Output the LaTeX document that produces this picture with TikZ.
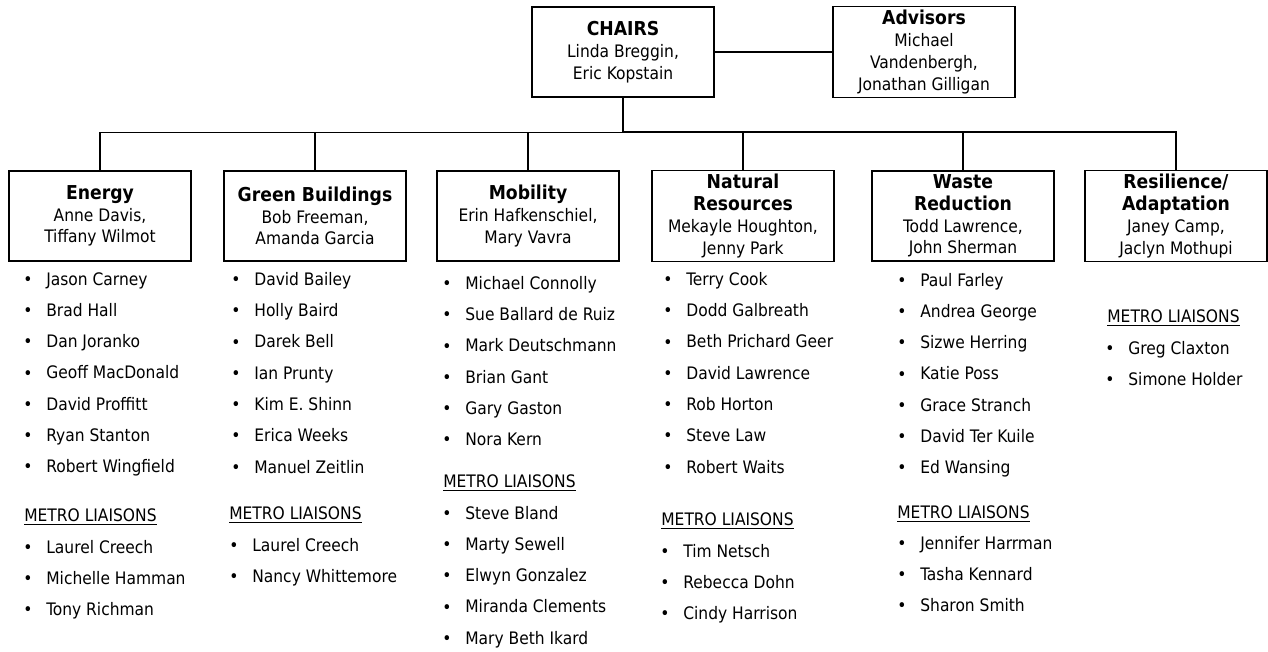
\documentclass[tikz,border=0pt]{standalone}
\usepackage{fontspec}
\setmainfont{DejaVu Sans Condensed}
\usetikzlibrary{positioning}
\newcommand\boxtitle[1]{{\fontsize{10.9}{12.4}\selectfont\bfseries #1}}

\begin{document}
\begin{tikzpicture}[
    x=0.02cm, y=-0.02cm,
    box/.style={draw, line width=0.8pt, minimum width=3.64cm, minimum height=1.8cm,
                align=center, inner sep=2pt, font=\fontsize{9.8}{12.4}\selectfont},
    member/.style={anchor=west, inner sep=0pt, text height=7pt, text depth=2pt,
                   font=\fontsize{9.8}{11.8}\selectfont,
                   label={[label distance=7.5pt, inner sep=0pt,
                           font=\fontsize{9.8}{11.8}\selectfont]left:\textbullet}},
    metro/.style={anchor=west, inner sep=0pt, text height=7pt, text depth=2pt,
                  font=\fontsize{9.8}{11.8}\selectfont},
    link/.style={line width=0.8pt}
]
    \useasboundingbox (0,0) rectangle (1268,652);

    % leadership
    \node[box] (chairs) at (623,52) {\boxtitle{CHAIRS}\\Linda Breggin,\\Eric Kopstain};
    \node[box] (advisors) at (924,52) {\boxtitle{Advisors}\\Michael\\Vandenbergh,\\Jonathan Gilligan};

    % committees
    \node[box] (energy) at (100,216) {\boxtitle{Energy}\\Anne Davis,\\Tiffany Wilmot};
    \node[box] (green) at (315,216) {\boxtitle{Green Buildings}\\Bob Freeman,\\Amanda Garcia};
    \node[box] (mobility) at (528,216) {\boxtitle{Mobility}\\Erin Hafkenschiel,\\Mary Vavra};
    \node[box] (natural) at (743,216) {\boxtitle{Natural}\\\boxtitle{Resources}\\Mekayle Houghton,\\Jenny Park};
    \node[box] (waste) at (963,216) {\boxtitle{Waste}\\\boxtitle{Reduction}\\Todd Lawrence,\\John Sherman};
    \node[box] (resilience) at (1176,216) {\boxtitle{Resilience/}\\\boxtitle{Adaptation}\\Janey Camp,\\Jaclyn Mothupi};

    \draw[link] (chairs.east) -- (advisors.west);
    \foreach \c in {energy, green, mobility, natural, waste, resilience}
        \draw[link] (\c.north) -- ++(0,-38) -| (chairs.south);

    % Energy
    \foreach \lbl [count=\i] in {Jason Carney, Brad Hall, Dan Joranko, Geoff MacDonald,
                                 David Proffitt, Ryan Stanton, Robert Wingfield}
        \node[member] (en\i) at (46,{281+31.2*(\i-1)}) {\lbl};
    \node[metro] (enm) at (24,517) {\underline{METRO LIAISONS}};
    \foreach \lbl [count=\i] in {Laurel Creech, Michelle Hamman, Tony Richman}
        \node[member] (enl\i) at (46,{549+31.2*(\i-1)}) {\lbl};

    % Green Buildings
    \foreach \lbl [count=\i] in {David Bailey, Holly Baird, Darek Bell, Ian Prunty,
                                 Kim E. Shinn, Erica Weeks, Manuel Zeitlin}
        \node[member] (gb\i) at (254,{281+31.3*(\i-1)}) {\lbl};
    \node[metro] (gbm) at (229,515) {\underline{METRO LIAISONS}};
    \foreach \lbl [count=\i] in {Laurel Creech, Nancy Whittemore}
        \node[member] (gbl\i) at (252,{547+31.2*(\i-1)}) {\lbl};

    % Mobility
    \foreach \lbl [count=\i] in {Michael Connolly, Sue Ballard de Ruiz, Mark Deutschmann,
                                 Brian Gant, Gary Gaston, Nora Kern}
        \node[member] (mo\i) at (465,{285+31.3*(\i-1)}) {\lbl};
    \node[metro] (mom) at (443,483) {\underline{METRO LIAISONS}};
    \foreach \lbl [count=\i] in {Steve Bland, Marty Sewell, Elwyn Gonzalez,
                                 Miranda Clements, Mary Beth Ikard}
        \node[member] (mol\i) at (465,{515+31.2*(\i-1)}) {\lbl};

    % Natural Resources
    \foreach \lbl [count=\i] in {Terry Cook, Dodd Galbreath, Beth Prichard Geer,
                                 David Lawrence, Rob Horton, Steve Law, Robert Waits}
        \node[member] (nr\i) at (686,{281+31.3*(\i-1)}) {\lbl};
    \node[metro] (nrm) at (661,521) {\underline{METRO LIAISONS}};
    \foreach \lbl [count=\i] in {Tim Netsch, Rebecca Dohn, Cindy Harrison}
        \node[member] (nrl\i) at (683,{553+31.2*(\i-1)}) {\lbl};

    % Waste Reduction
    \foreach \lbl [count=\i] in {Paul Farley, Andrea George, Sizwe Herring, Katie Poss,
                                 Grace Stranch, David Ter Kuile, Ed Wansing}
        \node[member] (wr\i) at (920,{282+31.2*(\i-1)}) {\lbl};
    \node[metro] (wrm) at (897,514) {\underline{METRO LIAISONS}};
    \foreach \lbl [count=\i] in {Jennifer Harrman, Tasha Kennard, Sharon Smith}
        \node[member] (wrl\i) at (920,{545+31.2*(\i-1)}) {\lbl};

    % Resilience/Adaptation
    \node[metro] (ram) at (1107,318) {\underline{METRO LIAISONS}};
    \foreach \lbl [count=\i] in {Greg Claxton, Simone Holder}
        \node[member] (ral\i) at (1128,{350+31.2*(\i-1)}) {\lbl};
\end{tikzpicture}
\end{document}
